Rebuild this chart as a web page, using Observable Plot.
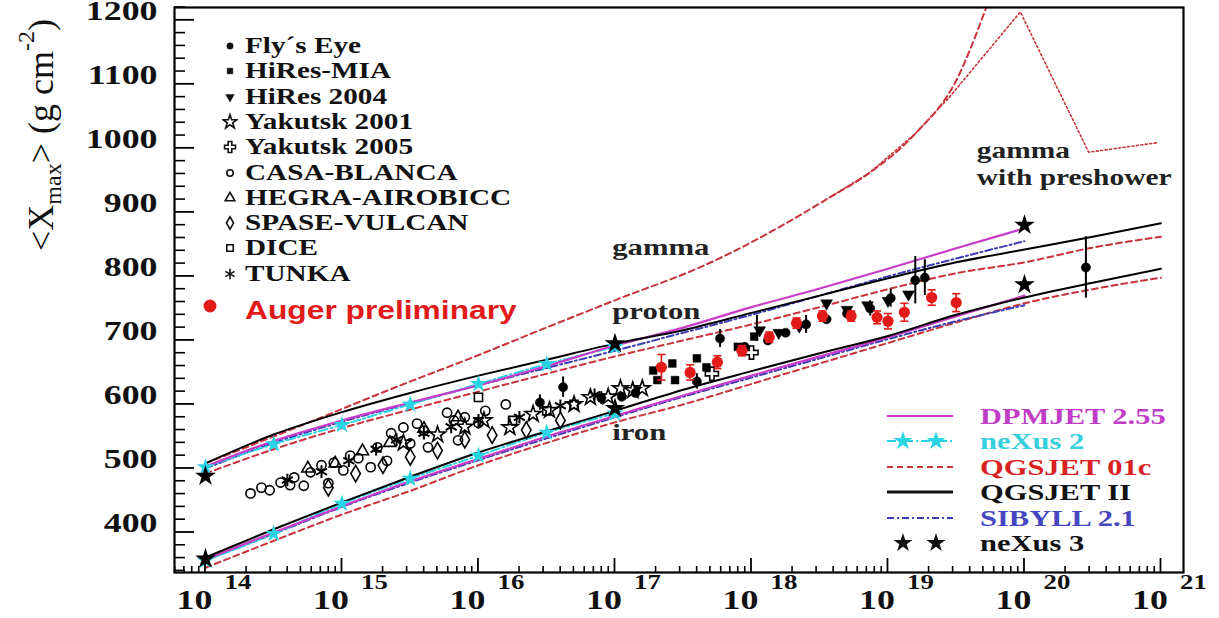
<!DOCTYPE html>
<html><head><meta charset="utf-8">
<script src="https://cdn.jsdelivr.net/npm/d3@7"></script>
<script src="https://cdn.jsdelivr.net/npm/@observablehq/plot@0.6"></script>
<style>
html,body{margin:0;padding:0;background:#fff}
#chart{position:relative;width:1219px;height:618px;overflow:hidden}
.lg-row{position:absolute;display:flex;align-items:center;white-space:nowrap}
.lg-row svg{display:block;flex:none}
.lg-txt{display:inline-block;transform:scaleX(1.27);transform-origin:0 50%;font-family:"Liberation Serif",serif;font-weight:bold}
</style>
</head><body><div id="chart"></div>
<script>
// ---------- model curves: [log10(E/eV), <Xmax> g/cm2] ----------
const QGSJETII_proton = [[14,508],[14.5,553],[15,588],[15.5,618],[16,645],[16.5,670],[17,695],[17.5,716],[18,743],[18.5,770],[19,797],[19.5,822],[20,842],[20.5,862],[21,883]];
const QGSJETII_iron   = [[14,361],[14.5,405],[15,447],[15.5,487],[16,525],[16.5,558],[17,590],[17.5,623],[18,652],[18.5,680],[19,707],[19.5,740],[20,767],[20.5,790],[21,812]];
const DPMJET_proton   = [[14,503],[14.5,543],[15,575],[15.5,603],[16,630],[16.5,660],[17,692],[17.5,720],[18,752],[18.5,781],[19,812],[19.5,844],[20,875]];
const DPMJET_iron     = [[14,358],[14.5,400],[15,441],[15.5,480],[16,515],[16.5,550],[17,582],[17.5,614],[18,645],[18.5,675],[19,705],[19.5,738],[20,770]];
const NEXUS2_proton   = [[14,502],[14.5,538],[15,568],[15.5,600],[16,632],[16.5,663],[17,690]];
const NEXUS2_iron     = [[14,356],[14.5,398],[15,445],[15.5,484],[16,520],[16.5,556],[17,586]];
const SIBYLL_proton   = [[14,500],[14.5,540],[15,573],[15.5,602],[16,630],[16.5,657],[17,684],[17.5,712],[18,740],[18.5,770],[19,800],[19.5,828],[20,855]];
const SIBYLL_iron     = [[14,357],[14.5,398],[15,440],[15.5,478],[16,513],[16.5,547],[17,580],[17.5,612],[18,642],[18.5,672],[19,702],[19.5,730],[20,755]];
const QGSJET01_proton = [[14,492],[14.5,530],[15,563],[15.5,592],[16,620],[16.5,648],[17,675],[17.5,700],[18,725],[18.5,752],[19,780],[19.5,805],[20,822],[20.5,845],[21,862]];
const QGSJET01_iron   = [[14,345],[14.5,387],[15,428],[15.5,465],[16,505],[16.5,540],[17,572],[17.5,600],[18,632],[18.5,664],[19,696],[19.5,728],[20,758],[20.5,780],[21,798]];
const QGSJET01_gamma  = [[14,508],[14.7,567],[15.43,630],[15.94,672],[16.52,722],[17.04,766],[17.62,814],[17.86,838],[18.35,895],[18.57,923],[18.86,961],[19.2,1023],[19.5,1106],[19.72,1220]];
const gammaPreshower  = [[18.57,923],[18.86,961],[19.2,1023],[19.45,1080],[19.97,1213],[20.47,994],[20.98,1009]];
const NEXUS3_proton   = [[14,488],[17,695],[20,880]];
const NEXUS3_iron     = [[14,359],[17,594],[20,787]];

// ---------- measurements ----------
const flysEye   = [[16.45,603],[16.62,627],[16.9,610],[17.05,612],[17.15,618],[17.6,636],[17.77,703],[17.95,690],[18.12,700],[18.25,712],[18.4,725],[18.55,733],[18.7,742],[18.87,750],[19.02,766],[19.2,794],[19.27,798],[20.45,814]];
const flysEyeErr= [[16.45,603,12],[16.62,627,16],[16.9,610,10],[17.6,636,12],[17.77,703,14],[18.04,719,20],[18.4,725,14],[18.87,750,12],[19.02,766,14],[19.2,794,37],[19.27,798,28],[20.45,814,48]];
const hiresMIA  = [[17.28,653],[17.42,664],[17.31,638],[17.44,638],[17.6,672],[17.67,658],[17.9,690],[18.02,706]];
const hires2004 = [[18.06,716],[18.2,712],[18.35,722],[18.55,758],[18.7,748],[18.85,755],[19.0,762],[19.15,772]];
const yakutsk2001 = [[15.45,540],[15.7,553],[15.9,565],[16.04,575],[16.23,564],[16.4,585],[16.52,591],[16.7,600],[16.82,611],[16.95,612],[17.04,625],[17.13,622],[17.2,625]];
const yakutsk2005 = [[17.71,648],[18.0,681]];
const casaBlanca = [[14.33,461],[14.41,470],[14.47,466],[14.55,478],[14.62,474],[14.65,486],[14.72,473],[14.77,494],[14.85,505],[14.9,477],[14.94,509],[15.01,497],[15.06,520],[15.12,516],[15.21,502],[15.26,533],[15.33,512],[15.36,555],[15.45,564],[15.5,539],[15.55,570],[15.6,559],[15.63,533],[15.77,587],[15.82,575],[15.85,544],[15.9,580],[16.0,571],[16.05,590],[16.2,600]];
const hegra     = [[14.75,500],[14.95,508],[15.15,527],[15.35,540],[15.6,562],[15.85,580]];
const spase     = [[14.9,470],[15.1,492],[15.3,505],[15.5,518],[15.7,528],[15.9,545],[16.1,552],[16.35,560],[16.6,575]];
const dice      = [[16.0,611],[16.25,575],[16.5,590],[16.7,600]];
const tunka     = [[14.6,482],[14.85,495],[15.05,512],[15.25,530],[15.4,545],[15.6,555],[15.8,565],[16.0,575],[16.3,580],[16.6,598],[16.85,615]];
const auger     = [[17.34,658,20],[17.55,650,12],[17.75,666,10],[17.93,684,8],[18.13,705,8],[18.33,727,8],[18.52,738,8],[18.73,738,8],[18.92,736,10],[19.0,730,12],[19.12,744,14],[19.32,767,12],[19.5,759,14]];

// ---------- axes / labels ----------
const decadeExponents = [14,15,16,17,18,19,20,21];
const yTickLabels = [400,500,600,700,800,900,1000,1100,1200];
const annotations = [
  {lg:16.98, v:833, label:"gamma"},
  {lg:16.98, v:734, label:"proton"},
  {lg:16.98, v:544, label:"iron"}
];
const preshowerNote = [{lg:19.65, v:977, label:"gamma\nwith preshower"}];
const legendData = [
  {name:"Fly\u00b4s Eye", symbol:"circle", filled:true, r:3.2},
  {name:"HiRes-MIA", symbol:"square", filled:true, r:3.2},
  {name:"HiRes 2004", symbol:"triangle", filled:true, r:3.2, rotate:180},
  {name:"Yakutsk 2001", symbol:"star", filled:false, r:4.4},
  {name:"Yakutsk 2005", symbol:"cross", filled:false, r:4.6},
  {name:"CASA-BLANCA", symbol:"circle", filled:false, r:3.2},
  {name:"HEGRA-AIROBICC", symbol:"triangle", filled:false, r:3.6},
  {name:"SPASE-VULCAN", symbol:"diamond", filled:false, r:3.8},
  {name:"DICE", symbol:"square", filled:false, r:3.6},
  {name:"TUNKA", symbol:"asterisk", filled:false, r:5}
];
const modelLegend = [
  {name:"DPMJET 2.55", color:"#c83cc8", text:"#c03ec6", dash:null, width:2.2, stars:null},
  {name:"neXus 2", color:"#2ad3e4", text:"#36cfdc", dash:"9,3,2,3", width:2, stars:"#2ad3e4"},
  {name:"QGSJET 01c", color:"#c8343c", text:"#d82222", dash:"6,4", width:2, stars:null},
  {name:"QGSJET II", color:"#111", text:"#111", dash:null, width:3, stars:null},
  {name:"SIBYLL 2.1", color:"#3c3cb4", text:"#4646c0", dash:"7,3,2,3", width:2, stars:null},
  {name:"neXus 3", color:null, text:"#111", dash:null, width:0, stars:"#111"}
];

// ---------- build ----------
const E = lg => Math.pow(10, lg);
const pts = arr => arr.map(([lg, v, err]) => ({lg, v, err}));
const comps = (p, i) => [...pts(p).map(d => ({...d, comp:"proton"})), ...pts(i).map(d => ({...d, comp:"iron"}))];
const SERIF = "Liberation Serif, Times New Roman, serif";

const minorX = [];
for (let n = 13; n <= 21; n++) for (let k = 2; k <= 9; k++) {
  const lg = n + Math.log10(k);
  if (lg > 13.773 && lg < 21.165) minorX.push(E(lg));
}
const majorX = decadeExponents.map(E);
const minorY = d3.range(340, 1221, 20).filter(v => v % 100 !== 0);

const W = 1219, H = 618, ML = 174, MR = 36, MT = 7, MB = 46;
const hline = {draw(ctx, size){const w = Math.sqrt(size); ctx.moveTo(-w,0); ctx.lineTo(w,0);}};

const lineOpt = (stroke, dash, width) => ({x: d => E(d.lg), y: "v", z: "comp", stroke, strokeWidth: width, strokeDasharray: dash, curve: "monotone-x"});
const sym = (data, symbol, filled, r, extra={}) => Plot.dot(pts(data), {x: d => E(d.lg), y: "v", symbol, r,
  fill: filled ? "black" : "none", stroke: "black", strokeWidth: filled ? 0.5 : 1.6, ...extra});

const plot = Plot.plot({
  width: W, height: H, marginLeft: ML, marginRight: MR, marginTop: MT, marginBottom: MB,
  x: {type: "log", domain: [E(13.773), E(21.165)], axis: null},
  y: {domain: [337.5, 1220], axis: null},
  style: {background: "white", fontFamily: SERIF},
  marks: [
    // models
    Plot.line(comps(QGSJET01_proton, QGSJET01_iron), lineOpt("#c8343c", "6,4", 2)),
    Plot.line(pts(QGSJET01_gamma), {...lineOpt("#c8343c", "6,4", 2), z: null}),
    Plot.line(pts(gammaPreshower), {...lineOpt("#c8343c", "2,2.5", 1.6), z: null, curve: "linear"}),
    Plot.line(comps(SIBYLL_proton, SIBYLL_iron), lineOpt("#3c3cb4", "7,3,2,3", 2)),
    Plot.line(comps(NEXUS2_proton, NEXUS2_iron), lineOpt("#2ad3e4", "9,3,2,3", 2)),
    Plot.line(comps(DPMJET_proton, DPMJET_iron), lineOpt("#c83cc8", null, 2.2)),
    Plot.line(comps(QGSJETII_proton, QGSJETII_iron), lineOpt("black", null, 2)),
    Plot.dot(comps(NEXUS2_proton, NEXUS2_iron), {x: d => E(d.lg), y: "v", symbol: "star", r: 5.5, fill: "#2ad3e4"}),
    Plot.dot(comps(NEXUS3_proton, NEXUS3_iron), {x: d => E(d.lg), y: "v", symbol: "star", r: 6.5, fill: "black"}),
    // data
    Plot.ruleX(pts(flysEyeErr), {x: d => E(d.lg), y1: d => d.v - d.err, y2: d => d.v + d.err, stroke: "black", strokeWidth: 2}),
    sym(casaBlanca, "circle", false, 4.6),
    sym(spase, "diamond", false, 5),
    sym(hegra, "triangle", false, 4.5),
    sym(tunka, "asterisk", false, 6, {strokeWidth: 2}),
    sym(yakutsk2001, "star", false, 5),
    sym(dice, "square", false, 4.6),
    sym(yakutsk2005, "cross", false, 5.5),
    sym(flysEye, "circle", true, 4.6),
    sym(hiresMIA, "square", true, 4.4),
    sym(hires2004, "triangle", true, 4.4, {rotate: 180}),
    Plot.ruleX(pts(auger), {x: d => E(d.lg), y1: d => d.v - d.err, y2: d => d.v + d.err, stroke: "#e21a1a", strokeWidth: 1.6}),
    Plot.dot(pts(auger).flatMap(d => [{lg: d.lg, v: d.v - d.err}, {lg: d.lg, v: d.v + d.err}]), {x: d => E(d.lg), y: "v", symbol: hline, r: 2.3, stroke: "#e21a1a", strokeWidth: 1.6}),
    Plot.dot(pts(auger), {x: d => E(d.lg), y: "v", r: 5.6, fill: "#e21a1a"}),
    // annotations
    Plot.text(annotations, {x: d => E(d.lg), y: "v", text: "label", textAnchor: "start", lineAnchor: "middle", fontSize: 24, fontWeight: "bold", fill: "#222", fontFamily: SERIF}),
    Plot.text(preshowerNote, {x: d => E(d.lg), y: "v", text: "label", textAnchor: "start", lineAnchor: "middle", lineHeight: 1.14, fontSize: 23, fontWeight: "bold", fill: "#222", fontFamily: SERIF}),
    // tick labels
    Plot.text(decadeExponents, {x: d => E(d), text: () => "10", frameAnchor: "bottom", dy: 36, dx: -11, textAnchor: "middle", lineAnchor: "middle", fontSize: 28, fontWeight: "bold", fill: "#111", fontFamily: SERIF}),
    Plot.text(decadeExponents, {x: d => E(d), text: d => String(d), frameAnchor: "bottom", dy: 16, dx: 19, textAnchor: "start", lineAnchor: "middle", fontSize: 21, fontWeight: "bold", fill: "#111", fontFamily: SERIF}),
    Plot.text(yTickLabels, {y: d => d, text: d => String(d), frameAnchor: "left", dx: -17, textAnchor: "end", lineAnchor: "middle", fontSize: 28, fontWeight: "bold", fill: "#111", fontFamily: SERIF}),
    Plot.frame({stroke: "black", strokeWidth: 2.2})
  ]
});
const chart = document.getElementById("chart");
chart.appendChild(plot);

// horizontal stretch of the serif lettering, as in the original scan
const K = 1.28;
plot.querySelectorAll("text").forEach(t => {
  const x = t.getAttribute("x"), y = t.getAttribute("y");
  let tr = t.getAttribute("transform") || "";
  if (x != null || y != null) { tr += ` translate(${+x || 0},${+y || 0})`; t.removeAttribute("x"); t.removeAttribute("y"); }
  t.setAttribute("transform", (tr + ` scale(${K},1)`).trim());
});

// inward ticks, positioned through the plot's own scales
const sx = plot.scale("x"), sy = plot.scale("y");
const yBottom = H - MB, xLeft = ML;
const tg = d3.select(plot).append("g").attr("stroke", "black").attr("fill", "none");
minorX.forEach(v => { const px = sx.apply(v); tg.append("line").attr("x1", px).attr("x2", px).attr("y1", yBottom).attr("y2", yBottom - 6).attr("stroke-width", 1.6); });
majorX.forEach(v => { const px = sx.apply(v); tg.append("line").attr("x1", px).attr("x2", px).attr("y1", yBottom).attr("y2", yBottom - 14).attr("stroke-width", 1.8); });
minorY.forEach(v => { const py = sy.apply(v); tg.append("line").attr("y1", py).attr("y2", py).attr("x1", xLeft).attr("x2", xLeft + 11).attr("stroke-width", 1.6); });
yTickLabels.forEach(v => { const py = sy.apply(v); tg.append("line").attr("y1", py).attr("y2", py).attr("x1", xLeft).attr("x2", xLeft + 20).attr("stroke-width", 1.8); });

// y-axis title
const title = d3.select(plot).append("text")
  .attr("transform", "translate(53,135) rotate(-90)")
  .attr("text-anchor", "middle").attr("font-family", SERIF).attr("font-size", 36).attr("fill", "#111");
title.append("tspan").text("<X");
title.append("tspan").attr("font-size", 24).attr("dy", 8).text("max");
title.append("tspan").attr("dy", -8).text(">");
title.append("tspan").text(" (g cm");
title.append("tspan").attr("font-size", 24).attr("dy", -19).text("-2");
title.append("tspan").attr("dy", 19).text(")");

// ---------- legends (HTML overlay) ----------
const SYM = {circle: d3.symbolCircle, square: d3.symbolSquare, triangle: d3.symbolTriangle, star: d3.symbolStar,
  cross: d3.symbolCross, diamond: d3.symbolDiamond, asterisk: d3.symbolAsterisk};
const symPath = (name, r) => d3.symbol(SYM[name], Math.PI * r * r)();
const NS = "http://www.w3.org/2000/svg";
function row(left, top, h) {
  const div = document.createElement("div");
  div.className = "lg-row";
  div.style.left = left + "px"; div.style.top = top + "px"; div.style.height = h + "px";
  chart.appendChild(div);
  return div;
}
function svgBox(w, h) {
  const s = document.createElementNS(NS, "svg");
  s.setAttribute("width", w); s.setAttribute("height", h);
  return s;
}
function label(div, text, ml, size, color, family) {
  const sp = document.createElement("span");
  sp.className = "lg-txt";
  sp.textContent = text;
  sp.style.marginLeft = ml + "px"; sp.style.fontSize = size + "px"; sp.style.lineHeight = "24px"; sp.style.color = color;
  if (family) sp.style.fontFamily = family;
  div.appendChild(sp);
  return sp;
}
legendData.forEach((d, i) => {
  const cy = 46 + 25.3 * i;
  const div = row(222, cy - 12, 24);
  const s = svgBox(16, 24);
  const p = document.createElementNS(NS, "path");
  p.setAttribute("d", symPath(d.symbol, d.r));
  p.setAttribute("transform", `translate(8,12)${d.rotate ? ` rotate(${d.rotate})` : ""}`);
  p.setAttribute("fill", d.filled ? "#111" : "none");
  p.setAttribute("stroke", "#111");
  p.setAttribute("stroke-width", d.filled ? 0.5 : 1.6);
  s.appendChild(p);
  div.appendChild(s);
  label(div, d.name, 7, 23, "#111");
});
{
  const div = row(203, 295, 30);
  const s = svgBox(14, 30);
  const c = document.createElementNS(NS, "circle");
  c.setAttribute("cx", 7); c.setAttribute("cy", 11); c.setAttribute("r", 6.5); c.setAttribute("fill", "#e21a1a");
  s.appendChild(c); div.appendChild(s);
  const sp = label(div, "Auger preliminary", 28, 25, "#e21a1a", "Liberation Sans, Arial, sans-serif");
  sp.style.lineHeight = "30px";
}
modelLegend.forEach((d, i) => {
  const cy = 416 + 25.4 * i;
  const div = row(887, cy - 12, 24);
  const s = svgBox(66, 24);
  if (d.color) {
    const l = document.createElementNS(NS, "line");
    l.setAttribute("x1", 0); l.setAttribute("x2", 66); l.setAttribute("y1", 12); l.setAttribute("y2", 12);
    l.setAttribute("stroke", d.color); l.setAttribute("stroke-width", d.width);
    if (d.dash) l.setAttribute("stroke-dasharray", d.dash);
    s.appendChild(l);
  }
  if (d.stars) [16, 49].forEach(x => {
    const p = document.createElementNS(NS, "path");
    p.setAttribute("d", symPath("star", 6)); p.setAttribute("transform", `translate(${x},12)`);
    p.setAttribute("fill", d.stars); s.appendChild(p);
  });
  div.appendChild(s);
  label(div, d.name, 27, 24, d.text);
});
</script></body></html>
